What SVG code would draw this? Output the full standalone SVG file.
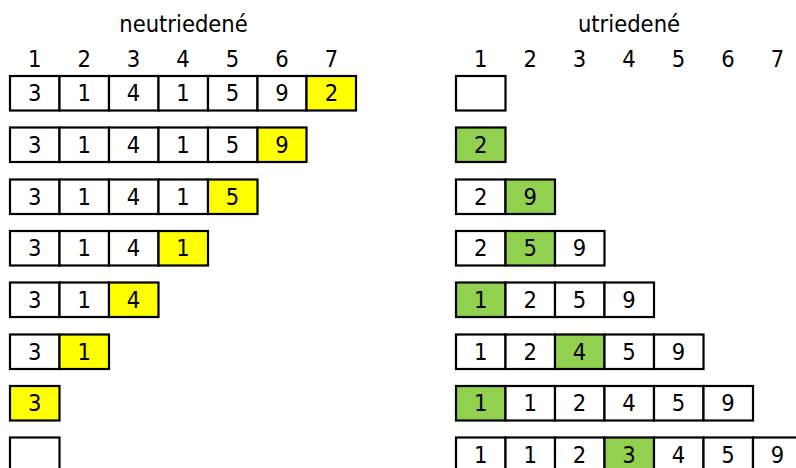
<svg xmlns="http://www.w3.org/2000/svg" width="796" height="468" viewBox="0 0 796 468">
<style>
rect{stroke:#000;stroke-width:2.2;fill:#fff}
rect.y{fill:#ffff00}
rect.g{fill:#92d050}
text{font-family:"DejaVu Sans Condensed","DejaVu Sans",sans-serif;font-size:23.5px;fill:#000;text-anchor:middle}
</style>
<rect x="0" y="0" width="796" height="468" style="stroke:none;fill:#fff"/>
<g id="headers">
<text x="183.5" y="32">neutriedené</text>
<text x="629" y="32">utriedené</text>
<text x="34.7" y="67">1</text><text x="84.2" y="67">2</text><text x="133.6" y="67">3</text><text x="183.1" y="67">4</text><text x="232.5" y="67">5</text><text x="282" y="67">6</text><text x="331.4" y="67">7</text>
<text x="480.7" y="67">1</text><text x="530.2" y="67">2</text><text x="579.6" y="67">3</text><text x="629.1" y="67">4</text><text x="678.5" y="67">5</text><text x="728" y="67">6</text><text x="777.5" y="67">7</text>
</g>
<g id="left1">
<rect x="10" y="76" width="49.5" height="34.5"/><rect x="59.5" y="76" width="49.5" height="34.5"/><rect x="109" y="76" width="49.5" height="34.5"/><rect x="158.5" y="76" width="49.5" height="34.5"/><rect x="208" y="76" width="49.5" height="34.5"/><rect x="257.5" y="76" width="49" height="34.5"/><rect class="y" x="306.5" y="76" width="49.5" height="34.5"/>
<text x="34.7" y="101">3</text><text x="84.2" y="101">1</text><text x="133.6" y="101">4</text><text x="183.1" y="101">1</text><text x="232.5" y="101">5</text><text x="282" y="101">9</text><text x="331.4" y="101">2</text>
</g>
<g id="left2">
<rect x="10" y="127.5" width="49.5" height="34.5"/><rect x="59.5" y="127.5" width="49.5" height="34.5"/><rect x="109" y="127.5" width="49.5" height="34.5"/><rect x="158.5" y="127.5" width="49.5" height="34.5"/><rect x="208" y="127.5" width="49.5" height="34.5"/><rect class="y" x="257.5" y="127.5" width="49" height="34.5"/>
<text x="34.7" y="152.5">3</text><text x="84.2" y="152.5">1</text><text x="133.6" y="152.5">4</text><text x="183.1" y="152.5">1</text><text x="232.5" y="152.5">5</text><text x="282" y="152.5">9</text>
</g>
<g id="left3">
<rect x="10" y="179.5" width="49.5" height="34.5"/><rect x="59.5" y="179.5" width="49.5" height="34.5"/><rect x="109" y="179.5" width="49.5" height="34.5"/><rect x="158.5" y="179.5" width="49.5" height="34.5"/><rect class="y" x="208" y="179.5" width="49.5" height="34.5"/>
<text x="34.7" y="204.5">3</text><text x="84.2" y="204.5">1</text><text x="133.6" y="204.5">4</text><text x="183.1" y="204.5">1</text><text x="232.5" y="204.5">5</text>
</g>
<g id="left4">
<rect x="10" y="231" width="49.5" height="34.5"/><rect x="59.5" y="231" width="49.5" height="34.5"/><rect x="109" y="231" width="49.5" height="34.5"/><rect class="y" x="158.5" y="231" width="49.5" height="34.5"/>
<text x="34.7" y="256">3</text><text x="84.2" y="256">1</text><text x="133.6" y="256">4</text><text x="183.1" y="256">1</text>
</g>
<g id="left5">
<rect x="10" y="282.5" width="49.5" height="34.5"/><rect x="59.5" y="282.5" width="49.5" height="34.5"/><rect class="y" x="109" y="282.5" width="49.5" height="34.5"/>
<text x="34.7" y="307.5">3</text><text x="84.2" y="307.5">1</text><text x="133.6" y="307.5">4</text>
</g>
<g id="left6">
<rect x="10" y="334.5" width="49.5" height="34.5"/><rect class="y" x="59.5" y="334.5" width="49.5" height="34.5"/>
<text x="34.7" y="359.5">3</text><text x="84.2" y="359.5">1</text>
</g>
<g id="left7">
<rect class="y" x="10" y="386" width="49.5" height="34.5"/>
<text x="34.7" y="411">3</text>
</g>
<g id="left8">
<rect x="10" y="437.5" width="49.5" height="34.5"/>
</g>
<g id="right1">
<rect x="456" y="76" width="49.5" height="34.5"/>
</g>
<g id="right2">
<rect class="g" x="456" y="127.5" width="49.5" height="34.5"/>
<text x="480.7" y="152.5">2</text>
</g>
<g id="right3">
<rect x="456" y="179.5" width="49.5" height="34.5"/><rect class="g" x="505.5" y="179.5" width="49.5" height="34.5"/>
<text x="480.7" y="204.5">2</text><text x="530.2" y="204.5">9</text>
</g>
<g id="right4">
<rect x="456" y="231" width="49.5" height="34.5"/><rect class="g" x="505.5" y="231" width="49.5" height="34.5"/><rect x="555" y="231" width="49.5" height="34.5"/>
<text x="480.7" y="256">2</text><text x="530.2" y="256">5</text><text x="579.6" y="256">9</text>
</g>
<g id="right5">
<rect class="g" x="456" y="282.5" width="49.5" height="34.5"/><rect x="505.5" y="282.5" width="49.5" height="34.5"/><rect x="555" y="282.5" width="49.5" height="34.5"/><rect x="604.5" y="282.5" width="49.5" height="34.5"/>
<text x="480.7" y="307.5">1</text><text x="530.2" y="307.5">2</text><text x="579.6" y="307.5">5</text><text x="629.1" y="307.5">9</text>
</g>
<g id="right6">
<rect x="456" y="334.5" width="49.5" height="34.5"/><rect x="505.5" y="334.5" width="49.5" height="34.5"/><rect class="g" x="555" y="334.5" width="49.5" height="34.5"/><rect x="604.5" y="334.5" width="49.5" height="34.5"/><rect x="654" y="334.5" width="49.5" height="34.5"/>
<text x="480.7" y="359.5">1</text><text x="530.2" y="359.5">2</text><text x="579.6" y="359.5">4</text><text x="629.1" y="359.5">5</text><text x="678.5" y="359.5">9</text>
</g>
<g id="right7">
<rect class="g" x="456" y="386" width="49.5" height="34.5"/><rect x="505.5" y="386" width="49.5" height="34.5"/><rect x="555" y="386" width="49.5" height="34.5"/><rect x="604.5" y="386" width="49.5" height="34.5"/><rect x="654" y="386" width="49.5" height="34.5"/><rect x="703.5" y="386" width="49.5" height="34.5"/>
<text x="480.7" y="411">1</text><text x="530.2" y="411">1</text><text x="579.6" y="411">2</text><text x="629.1" y="411">4</text><text x="678.5" y="411">5</text><text x="728" y="411">9</text>
</g>
<g id="right8">
<rect x="456" y="437.5" width="49.5" height="34.5"/><rect x="505.5" y="437.5" width="49.5" height="34.5"/><rect x="555" y="437.5" width="49.5" height="34.5"/><rect class="g" x="604.5" y="437.5" width="49.5" height="34.5"/><rect x="654" y="437.5" width="49.5" height="34.5"/><rect x="703.5" y="437.5" width="49.5" height="34.5"/><rect x="753" y="437.5" width="49.5" height="34.5"/>
<text x="480.7" y="462.5">1</text><text x="530.2" y="462.5">1</text><text x="579.6" y="462.5">2</text><text x="629.1" y="462.5">3</text><text x="678.5" y="462.5">4</text><text x="728" y="462.5">5</text><text x="777.5" y="462.5">9</text>
</g>
<g id="connectors"/>
</svg>
